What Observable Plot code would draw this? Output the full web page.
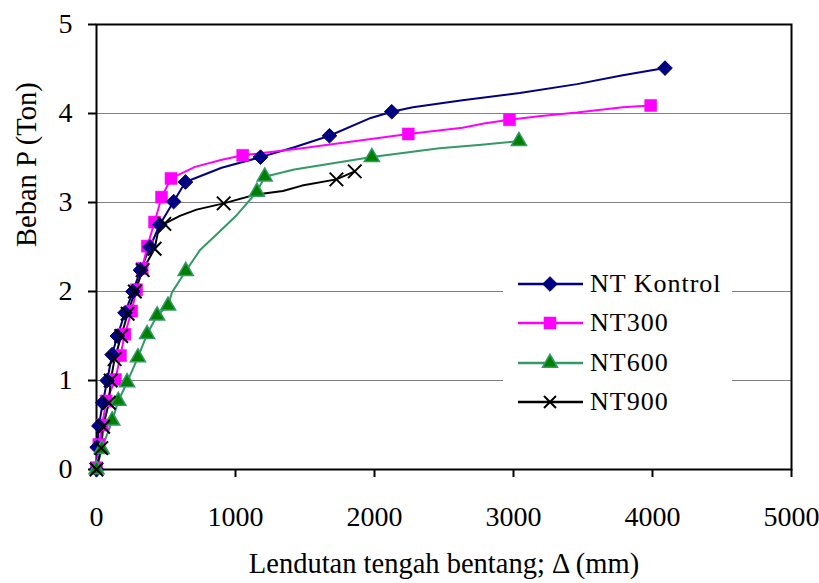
<!DOCTYPE html>
<html><head><meta charset="utf-8">
<script src="https://cdn.jsdelivr.net/npm/d3@7"></script>
<script src="https://cdn.jsdelivr.net/npm/@observablehq/plot@0.6"></script>
<style>
body{margin:0;background:#fff;}
#chart{position:relative;width:819px;height:583px;font-family:"Liberation Serif","Times New Roman",serif;}
#legend{position:absolute;left:503px;top:264px;width:229px;height:158px;background:#fff;}
.row{position:absolute;left:0;height:30px;display:flex;align-items:center;font-size:26px;letter-spacing:1px;color:#000;}
.row svg{margin-left:15px;margin-right:7px;}
</style></head><body><div id="chart"></div>
<script>
const seriesNames = ["NT Kontrol", "NT300", "NT600", "NT900"];
const xTicks = [0, 1000, 2000, 3000, 4000, 5000];
const yTicks = [0, 1, 2, 3, 4, 5];
const xTitle = "Lendutan tengah bentang; \u0394 (mm)";
const yTitle = "Beban P (Ton)";

// marker points
const kontrolDefl = [0, 5, 17, 45, 77, 112, 150, 205, 262, 316, 385, 455, 555, 640, 1180, 1676, 2124, 4090];
const kontrolLoad = [0, 0.25, 0.49, 0.75, 1.0, 1.29, 1.5, 1.76, 2.0, 2.24, 2.5, 2.75, 3.01, 3.23, 3.51, 3.75, 4.02, 4.51];
const nt300Defl = [0, 17, 41, 70, 136, 172, 204, 253, 288, 329, 366, 418, 468, 536, 1052, 2243, 2971, 3987];
const nt300Load = [0.02, 0.28, 0.50, 0.77, 1.01, 1.28, 1.52, 1.78, 2.02, 2.26, 2.51, 2.78, 3.06, 3.27, 3.53, 3.77, 3.93, 4.09];
const nt600Defl = [0, 38, 113, 157, 220, 298, 364, 436, 515, 642, 1154, 1210, 1981, 3039];
const nt600Load = [0, 0.23, 0.55, 0.77, 0.98, 1.26, 1.52, 1.73, 1.84, 2.23, 3.12, 3.29, 3.51, 3.69];
const nt900Defl = [0, 34, 48, 89, 102, 130, 178, 224, 276, 332, 418, 488, 915, 1726, 1858];
const nt900Load = [0, 0.24, 0.48, 0.75, 1.0, 1.24, 1.50, 1.75, 2.0, 2.24, 2.48, 2.76, 2.99, 3.26, 3.35];

// extra (unmarked) vertices of the drawn curves
const kontrolLineDefl = [900, 1423, 1973, 2276, 2633, 3045, 3457, 3786];
const kontrolLineLoad = [3.39, 3.62, 3.95, 4.07, 4.15, 4.23, 4.33, 4.43];
const nt300LineDefl = [709, 902, 1479, 2523, 2633, 2797, 3182, 3457, 3786];
const nt300LineLoad = [3.40, 3.48, 3.61, 3.82, 3.84, 3.89, 3.97, 4.01, 4.07];
const nt600LineDefl = [543, 747, 890, 1010, 1423, 2467, 2770];
const nt600LineLoad = [1.99, 2.47, 2.68, 2.86, 3.37, 3.61, 3.65];
const nt900LineDefl = [440, 600, 720, 1149, 1341, 1479];
const nt900LineLoad = [2.65, 2.85, 2.92, 3.09, 3.13, 3.19];

const styles = [
  {stroke: "#000080", fill: "#000080", mstroke: "#000080", symbol: "diamond2", r: 6.6, sw: 1},
  {stroke: "#FF00FF", fill: "#FF00FF", mstroke: "#FF00FF", symbol: "square", r: 6.8, sw: 0.5},
  {stroke: "#339966", fill: "#008000", mstroke: "#339966", symbol: "triangle", r: 5.6, sw: 1.5},
  {stroke: "#000000", fill: "none", mstroke: "#000000", symbol: "times", r: 6.2, sw: 2}
];

const pts = (xs, ys) => xs.map((x, i) => ({x, y: ys[i]}));
const markerSets = [
  pts(kontrolDefl, kontrolLoad), pts(nt300Defl, nt300Load),
  pts(nt600Defl, nt600Load), pts(nt900Defl, nt900Load)
];
const extraSets = [
  pts(kontrolLineDefl, kontrolLineLoad), pts(nt300LineDefl, nt300LineLoad),
  pts(nt600LineDefl, nt600LineLoad), pts(nt900LineDefl, nt900LineLoad)
];
const lineSets = markerSets.map((m, i) => m.concat(extraSets[i]).sort((a, b) => a.y - b.y || a.x - b.x));

const marks = [
  Plot.gridY([1, 2, 3, 4], {stroke: "#808080", strokeOpacity: 1, strokeWidth: 1}),
  Plot.axisX(xTicks, {tickSize: 8, tickPadding: 29, label: null, tickFormat: d => String(d), strokeWidth: 2, fontSize: 28}),
  Plot.axisY(yTicks, {tickSize: 8, tickPadding: 16, label: null, tickFormat: d => String(d), strokeWidth: 2, fontSize: 28}),
  Plot.frame({stroke: "#000", strokeWidth: 2})
];
lineSets.forEach((d, i) => marks.push(Plot.line(d, {x: "x", y: "y", stroke: styles[i].stroke, strokeWidth: 2})));
[1, 0, 2, 3].forEach(i => {
  const s = styles[i];
  marks.push(Plot.dot(markerSets[i], {x: "x", y: "y", symbol: () => s.symbol, r: s.r,
    fill: s.fill === "none" ? null : s.fill, stroke: s.mstroke, strokeWidth: s.sw}));
});
marks.push(Plot.text([xTitle], {frameAnchor: "bottom", dy: 103, fontSize: 28.5, fill: "#000"}));
marks.push(Plot.text([yTitle], {frameAnchor: "left", rotate: -90, dx: -70, dy: 0, fontSize: 28.5, fill: "#000"}));

const chart = Plot.plot({
  width: 819, height: 583,
  marginLeft: 96, marginRight: 28, marginTop: 24, marginBottom: 114,
  style: {fontFamily: '"Liberation Serif", "Times New Roman", serif', fontSize: "28px", background: "#fff", color: "#000", overflow: "visible"},
  x: {domain: [0, 5000]},
  y: {domain: [0, 5]},
  marks
});
const host = document.getElementById("chart");
host.appendChild(chart);

// legend
const legend = document.createElement("div");
legend.id = "legend";
host.appendChild(legend);
const rowTops = [5, 44, 84, 123];
seriesNames.forEach((name, i) => {
  const s = styles[i];
  const row = document.createElement("div");
  row.className = "row";
  row.style.top = rowTops[i] + "px";
  const svg = d3.create("svg").attr("width", 65).attr("height", 30);
  svg.append("line").attr("x1", 0).attr("x2", 65).attr("y1", 15).attr("y2", 15)
    .attr("stroke", s.stroke).attr("stroke-width", 2.5);
  const symMap = {diamond2: d3.symbolDiamond2, square: d3.symbolSquare, triangle: d3.symbolTriangle, times: d3.symbolTimes};
  const r = i === 3 ? 5.5 : s.r;
  svg.append("path").attr("transform", "translate(32,15)")
    .attr("d", d3.symbol(symMap[s.symbol], r * r * Math.PI)())
    .attr("fill", s.fill).attr("stroke", s.mstroke).attr("stroke-width", s.sw);
  row.appendChild(svg.node());
  const t = document.createElement("span");
  t.textContent = name;
  row.appendChild(t);
  legend.appendChild(row);
});
</script></body></html>
